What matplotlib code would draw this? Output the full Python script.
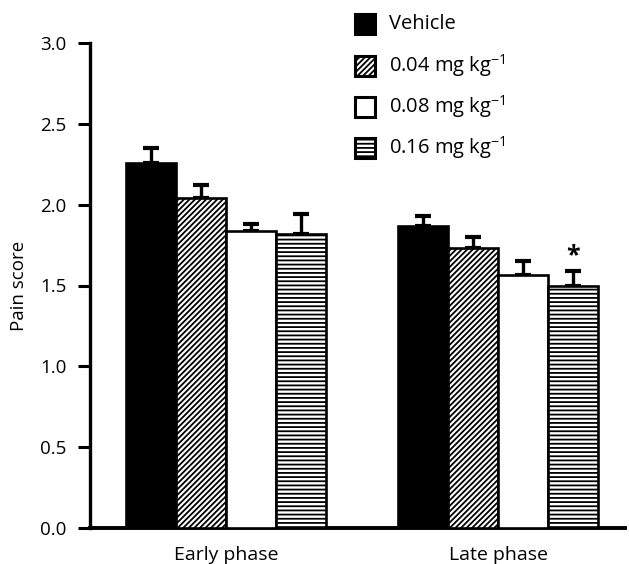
import matplotlib
matplotlib.use("Agg")
import matplotlib.pyplot as plt
from matplotlib.patches import Rectangle
import numpy as np

plt.rcParams['font.family'] = ['Open Sans', 'DejaVu Sans']
plt.rcParams['mathtext.fontset'] = 'custom'
plt.rcParams['mathtext.rm'] = 'Open Sans'
plt.rcParams['hatch.linewidth'] = 1.3

groups = ["Early phase", "Late phase"]
series = ["Vehicle", r"0.04 mg kg$^{\mathregular{-1}}$",
          r"0.08 mg kg$^{\mathregular{-1}}$", r"0.16 mg kg$^{\mathregular{-1}}$"]
means = {
    "Vehicle": [2.26, 1.87],
    "0.04": [2.04, 1.73],
    "0.08": [1.84, 1.565],
    "0.16": [1.82, 1.50],
}
errors = {
    "Vehicle": [0.09, 0.06],
    "0.04": [0.08, 0.07],
    "0.08": [0.04, 0.085],
    "0.16": [0.12, 0.09],
}
keys = ["Vehicle", "0.04", "0.08", "0.16"]
yticks = [0.0, 0.5, 1.0, 1.5, 2.0, 2.5, 3.0]

fills = ["black", "white", "white", "white"]
hatches = [None, "//////", None, "----"]

W, H = 629, 564
fig = plt.figure(figsize=(W / 100, H / 100), dpi=100)
ax = fig.add_axes([90 / W, (H - 528) / H, (625 - 90) / W, (528 - 43) / H])

x = np.arange(len(groups))
w = 0.184
lw = 1.9
for i, k in enumerate(keys):
    pos = x + (i - 1.5) * w
    ax.bar(pos, means[k], width=w, color=fills[i], edgecolor="black",
           hatch=hatches[i], linewidth=lw, zorder=3)
    ax.errorbar(pos, means[k], yerr=[np.zeros(len(groups)), errors[k]],
                fmt="none", ecolor="black", elinewidth=2.4, capsize=5.5,
                capthick=3.0, zorder=2)

# significance marker
ax.text(x[1] + 1.5 * w, means["0.16"][1] + errors["0.16"][1] + 0.015, "*",
        ha="center", va="bottom", fontsize=18, fontweight="bold")

ax.set_xlim(-0.5004, 1.4666)
ax.set_ylim(0, 3.0)
ax.set_yticks(yticks)
ax.set_yticklabels([f"{v:.1f}" for v in yticks], fontsize=13.5)
ax.set_xticks(x)
ax.set_xticklabels(groups, fontsize=14)
ax.tick_params(axis="x", length=0, pad=13)
ax.tick_params(axis="y", length=9, width=2.2, pad=8)
for s in ["top", "right"]:
    ax.spines[s].set_visible(False)
ax.spines["left"].set_linewidth(2.4)
ax.spines["bottom"].set_linewidth(2.8)
ax.set_ylabel("Pain score", fontsize=13.5, labelpad=9)

# legend drawn manually in figure pixel coordinates
leg_y = [24, 66, 107, 148]
for i, lab in enumerate(series):
    yc = leg_y[i]
    r = Rectangle((355 / W, (H - yc - 10) / H), 20 / W, 20 / H,
                  transform=fig.transFigure, facecolor=fills[i],
                  edgecolor="black", linewidth=2.2, hatch=hatches[i])
    fig.patches.append(r)
    fig.text(389 / W, (H - yc) / H, lab, fontsize=14.5, va="center", ha="left")

fig.savefig("out.png", dpi=100)
